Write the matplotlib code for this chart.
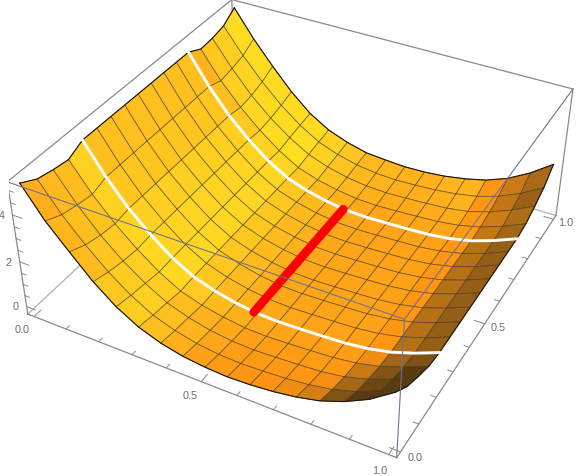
import numpy as np
import matplotlib
matplotlib.use('Agg')
import matplotlib.pyplot as plt
from matplotlib.colors import LinearSegmentedColormap
from matplotlib.text import Text

plt.rcParams['font.family'] = ['Liberation Sans', 'DejaVu Sans']

# mesh nodes, 16 cells each way
x_nodes = [i / 16 for i in range(17)]
y_nodes = [j / 16 for j in range(17)]

# heights, one row per y node
edge_low = [5.22, 3.97, 3.00, 2.05, 1.30, 0.75, 0.40, 0.18, 0.07, 0.02, 0.06, 0.15, 0.30, 0.53, 0.90, 1.40, 2.10]
row_1 = [4.85, 3.67, 2.70, 1.85, 1.16, 0.62, 0.29, 0.07, -0.05, -0.09, -0.05, 0.01, 0.12, 0.30, 0.60, 1.03, 1.60]
row_2 = [4.70, 3.52, 2.53, 1.72, 1.06, 0.53, 0.21, -0.01, -0.13, -0.17, -0.13, -0.08, -0.01, 0.14, 0.42, 0.81, 1.30]
row_3 = [4.60, 3.42, 2.45, 1.64, 0.95, 0.42, 0.12, -0.07, -0.20, -0.23, -0.19, -0.14, -0.08, 0.05, 0.28, 0.63, 1.05]
valley = [4.90, 3.62, 2.55, 1.70, 0.98, 0.45, 0.14, -0.07, -0.20, -0.23, -0.20, -0.16, -0.11, 0.01, 0.22, 0.55, 0.95]
row_13 = [4.60, 3.42, 2.45, 1.64, 0.95, 0.42, 0.12, -0.07, -0.20, -0.23, -0.19, -0.14, -0.08, 0.05, 0.28, 0.63, 1.05]
row_14 = [4.65, 3.52, 2.53, 1.72, 1.06, 0.53, 0.21, -0.01, -0.13, -0.17, -0.13, -0.08, -0.01, 0.14, 0.42, 0.81, 1.30]
row_15 = [4.78, 3.67, 2.70, 1.85, 1.16, 0.62, 0.29, 0.07, -0.05, -0.09, -0.05, 0.01, 0.12, 0.30, 0.60, 1.03, 1.60]
edge_high = [5.18, 4.00, 2.97, 2.02, 1.24, 0.70, 0.37, 0.14, 0.07, 0.02, 0.05, 0.14, 0.30, 0.53, 0.90, 1.44, 2.12]
z_rows = [edge_low, row_1, row_2, row_3] + [valley] * 9 + [row_13, row_14, row_15, edge_high]

white_y = [0.25, 0.75]
red_x = 0.49
red_y = [0.25, 0.75]
red_z = [-0.20, -0.20]

x_ticks = [i / 10 for i in range(11)]
y_ticks = [i / 10 for i in range(11)]
z_ticks = [i / 2 for i in range(11)]
xy_labels = [0.0, 0.5, 1.0]
z_labels = [0, 2, 4]

lo, hi = -0.02, 1.02
zlo, zhi = -0.35, 5.35
BOX = '#8a8a8a'
TEXT = '#6e6e6e'

cmap = LinearSegmentedColormap.from_list('glow', [
    (0.0, '#5a3a10'), (0.25, '#a86a18'), (0.45, '#ff9412'),
    (0.6, '#ffb01c'), (0.8, '#ffd022'), (1.0, '#ffe820')])

X, Y = np.meshgrid(x_nodes, y_nodes)
Z = np.array(z_rows)

# cell colours from the surface slope, lit from the lower left
scale = (0.398 / (zhi - zlo)) / ((x_nodes[1] - x_nodes[0]) / (hi - lo))
zx = 0.5 * (np.diff(Z, axis=1)[:-1, :] + np.diff(Z, axis=1)[1:, :]) * scale
zy = 0.5 * (np.diff(Z, axis=0)[:, :-1] + np.diff(Z, axis=0)[:, 1:]) * scale
norm = np.sqrt(zx**2 + zy**2 + 1)
nx, ny = -zx / norm, -zy / norm
t = 0.52 + 0.33 * np.exp(-((nx - 0.55) / 0.35)**2) - 0.6 * ny - 1.5 * np.clip(-nx - 0.2, 0, None)
colors = cmap(np.clip(t, 0, 1))

fig = plt.figure(figsize=(5.76, 4.76), dpi=100)
ax = fig.add_axes([9.46 / 576, -18.56 / 476, 573.5 / 576, 573.5 / 476], projection='3d')
ax.computed_zorder = False
ax.set_xlim(lo, hi, view_margin=0)
ax.set_ylim(lo, hi, view_margin=0)
ax.set_zlim(zlo, zhi, view_margin=0)
ax.view_init(elev=36.1756, azim=-61.584)
ax.set_proj_type('persp', focal_length=0.44678)
ax.set_box_aspect((1, 1, 0.39824))
ax.set_xticks([])
ax.set_yticks([])
ax.set_zticks([])
ax.set_axis_off()

def box_line(a, b, zorder=1, color=BOX, lw=0.9, alpha=1.0):
    ax.plot([a[0], b[0]], [a[1], b[1]], [a[2], b[2]], color=color, lw=lw, alpha=alpha, zorder=zorder)

# back of the box, behind the surface
box_line((lo, lo, zhi), (lo, hi, zhi))
box_line((lo, hi, zhi), (hi, hi, zhi))
box_line((lo, hi, zhi), (lo, hi, zlo))
box_line((lo, lo, zlo), (lo, hi, zlo), color='#b0b0b0')
box_line((lo, hi, zlo), (hi, hi, zlo), color='#b0b0b0')
box_line((hi, hi, zlo), (hi, hi, zhi))
box_line((lo, lo, zlo), (lo, lo, zhi))
box_line((lo, lo, zlo), (hi, lo, zlo))
box_line((hi, lo, zlo), (hi, hi, zlo))

ax.plot_surface(X, Y, Z, facecolors=colors, rstride=1, cstride=1, shade=False,
                edgecolor=(0.2, 0.16, 0.1, 0.6), linewidth=0.55, antialiased=True, zorder=2)

# outline of the surface
for xs, ys, zs in [(X[0], Y[0], Z[0]), (X[-1], Y[-1], Z[-1]), (X[:, 0], Y[:, 0], Z[:, 0]), (X[:, -1], Y[:, -1], Z[:, -1])]:
    ax.plot(xs, ys, zs, color='#1c1408', lw=0.8, zorder=3)

# white lines along the valley borders
for yw in white_y:
    j = y_nodes.index(yw)
    ax.plot(X[j], Y[j], Z[j], color='white', lw=2.1, zorder=4)

ax.plot([red_x, red_x], red_y, red_z, color='red', lw=6.3, solid_capstyle='round', zorder=5)

# front of the box, over the surface
box_line((lo, lo, zhi), (hi, lo, zhi), zorder=6, color='#70748a', lw=0.8)
box_line((hi, lo, zhi), (hi, hi, zhi), zorder=6, color='#70748a', lw=0.8)
box_line((hi, lo, zhi), (hi, lo, zlo), zorder=6, color='#70748a', lw=0.8)

# ticks point into the box, every fifth one is longer
for v in x_ticks:
    size = 0.028 if v in xy_labels else 0.014
    box_line((v, lo, zlo), (v, lo + size, zlo), color=BOX, lw=0.7)
for v in y_ticks:
    size = 0.028 if v in xy_labels else 0.014
    box_line((hi, v, zlo), (hi - size, v, zlo), color=BOX, lw=0.7)
for v in z_ticks:
    size = 0.028 if v in z_labels else 0.014
    box_line((lo, lo, v), (lo + size, lo, v), color=BOX, lw=0.7)

for v in xy_labels:
    ax.text(v + 0.004, lo - 0.055, zlo, f'{v:.1f}', color=TEXT, fontsize=7.8, ha='center', va='center')
    ax.text(hi + 0.037, v, zlo, f'{v:.1f}', color=TEXT, fontsize=7.8, ha='center', va='center')
for v in z_labels:
    ax.text(lo - 0.022, lo - 0.015, v, str(v), color=TEXT, fontsize=7.8, ha='center', va='center')

# the hidden axes still keep empty label objects
for txt in ax.findobj(Text):
    if not txt.get_text():
        txt.set_visible(False)

fig.savefig('out.png', dpi=100)
